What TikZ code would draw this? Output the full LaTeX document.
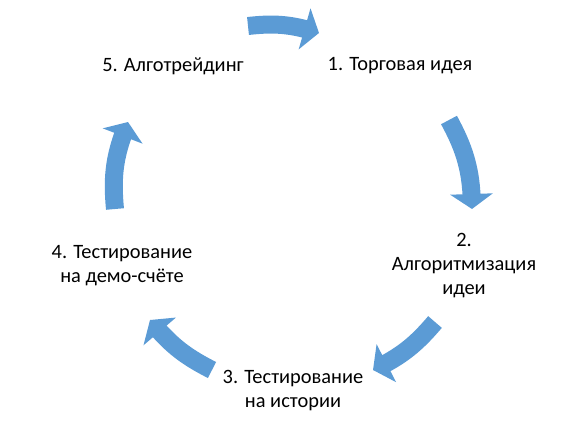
\documentclass[tikz,border=0pt]{standalone}
\usepackage{fontspec}
\setmainfont{Carlito}
\usetikzlibrary{arrows.meta,bending}
\definecolor{arrowblue}{HTML}{5B9BD5}
\begin{document}
\begin{tikzpicture}[x=1pt,y=-1pt,
  lbl/.style={font=\fontsize{20.4}{24}\selectfont, align=center, text=black, inner sep=0pt},
  cyc/.style={draw=arrowblue, line width=18pt, -{Triangle[width=42pt,length=15pt]}}]
\useasboundingbox (0,0) rectangle (582,432);
\node[lbl] (t1) at (400,66) {1. Торговая идея};
\node[lbl] (t2) at (464,266) {2.\\Алгоритмизация\\идеи};
\node[lbl] (t3) at (293,391) {3. Тестирование\\на истории};
\node[lbl] (t4) at (122,266) {4. Тестирование\\на демо-счёте};
\node[lbl] (t5) at (173,66) {5. Алготрейдинг};
\coordinate (a1s) at (248,26);  \coordinate (a1e) at (319,33);
\coordinate (a2s) at (449,120); \coordinate (a2e) at (472,209);
\coordinate (a3s) at (435,322); \coordinate (a3e) at (373,370);
\coordinate (a4s) at (212,370); \coordinate (a4e) at (150,320);
\coordinate (a5s) at (115,209); \coordinate (a5e) at (128,122);
\draw[cyc] (a1s) to[bend left=12] (a1e);
\draw[cyc] (a2s) to[bend left=14] (a2e);
\draw[cyc] (a3s) to[bend left=12] (a3e);
\draw[cyc] (a4s) to[bend left=12] (a4e);
\draw[cyc] (a5s) to[bend left=14] (a5e);
\end{tikzpicture}
\end{document}
